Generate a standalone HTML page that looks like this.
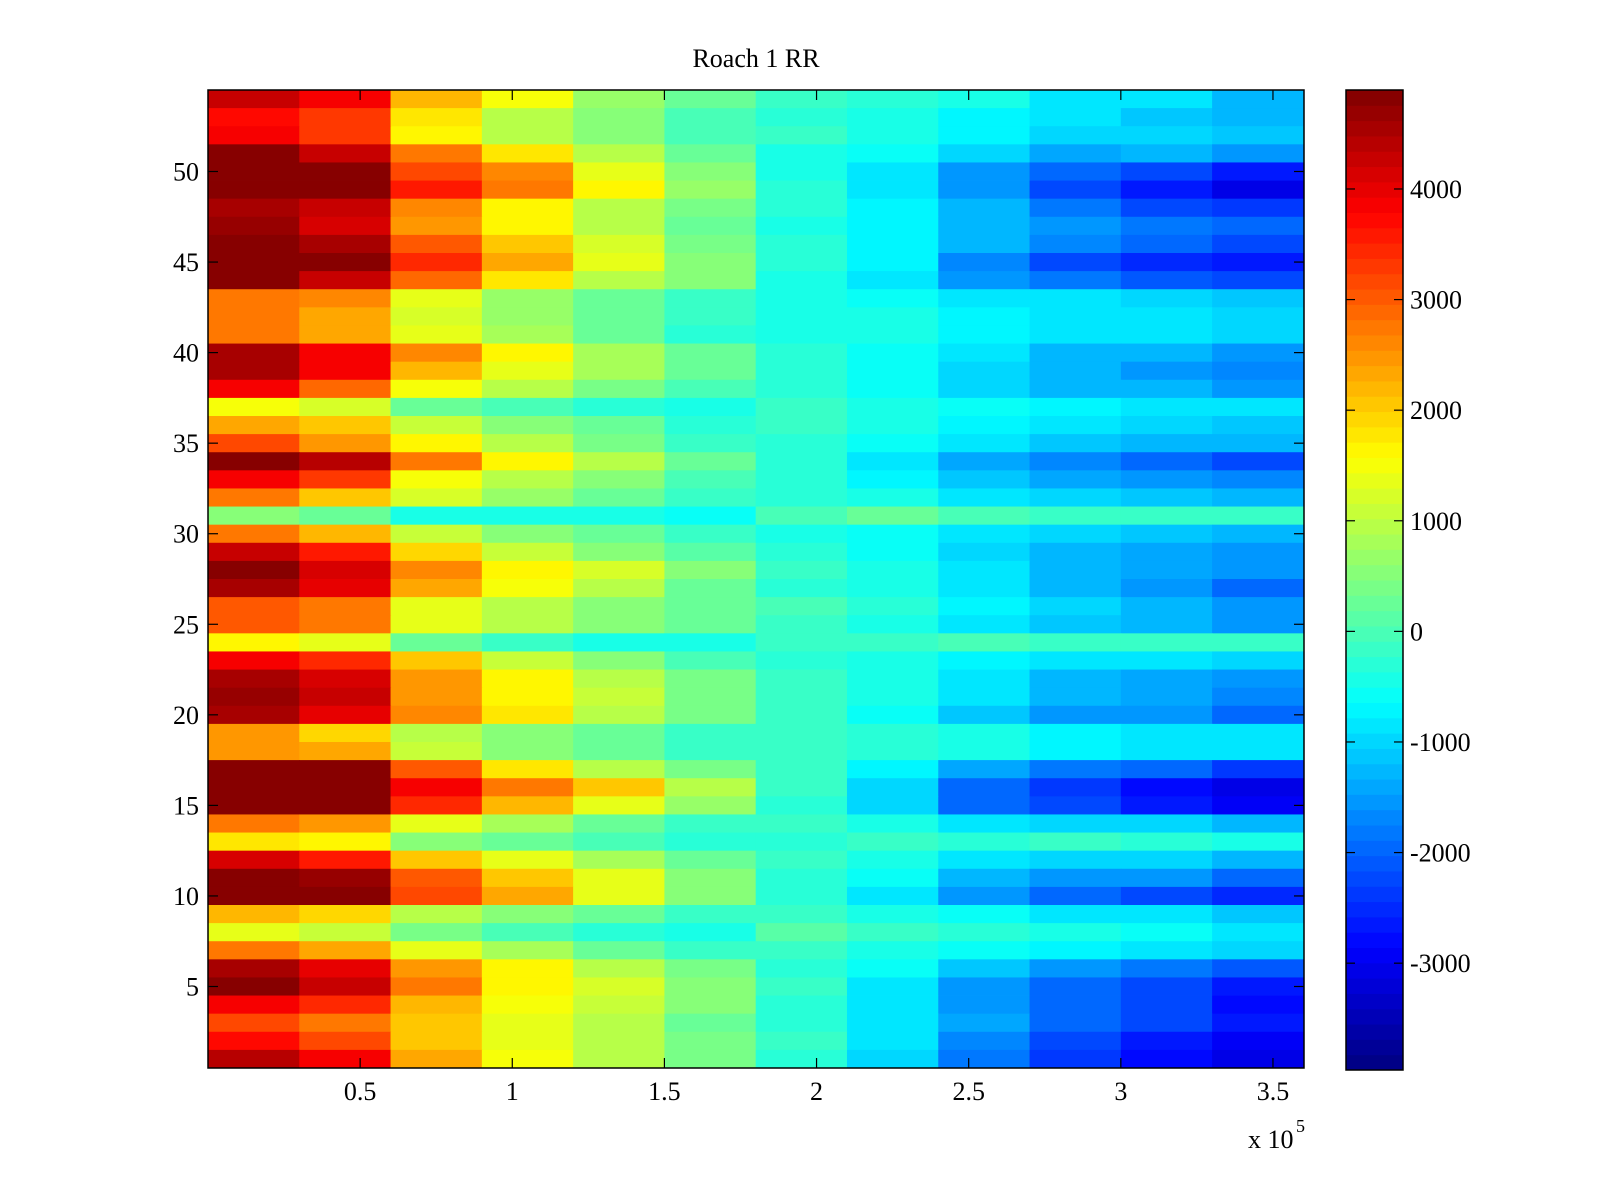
<!DOCTYPE html>
<html><head><meta charset="utf-8"><style>
html,body{margin:0;padding:0;background:#fff;}
svg{display:block;font-family:"Liberation Serif",serif;}
</style></head><body>
<svg id="chart" width="1600" height="1200" viewBox="0 0 1600 1200"></svg>
<script>
// Column bin centers (x, in units of 1e5)
const colCenters = [0.15,0.45,0.75,1.05,1.35,1.65,1.95,2.25,2.55,2.85,3.15,3.45];
const colWidth = 0.3;
// Row values from row 54 (top) down to row 1
const r54=[4300,3800,2200,1500,700,200,-100,-300,-500,-800,-900,-1200];
const r53=[3700,3300,1800,1000,500,0,-300,-500,-700,-900,-1100,-1200];
const r52=[3800,3300,1600,1000,500,0,-200,-400,-700,-1000,-1000,-1100];
const r51=[4900,4300,2800,1800,1000,300,-400,-600,-1000,-1400,-1300,-1500];
const r50=[4900,4900,3200,2600,1300,500,-500,-800,-1600,-2000,-2300,-2700];
const r49=[4900,4900,3600,2800,1600,700,-300,-800,-1600,-2300,-2700,-3100];
const r48=[4600,4300,2600,1700,1000,400,-300,-700,-1300,-1800,-2200,-2400];
const r47=[4700,4200,2500,1600,900,300,-400,-700,-1200,-1500,-1800,-2000];
const r46=[4900,4600,3000,2000,1200,400,-300,-700,-1200,-1700,-2000,-2300];
const r45=[4900,4900,3500,2300,1300,600,-300,-700,-1700,-2200,-2500,-2700];
const r44=[4900,4300,2900,1800,1000,500,-400,-900,-1500,-1800,-2100,-2200];
const r43=[2800,2600,1300,700,300,-200,-400,-600,-800,-900,-1000,-1100];
const r42=[2700,2400,1200,700,200,-200,-400,-500,-700,-800,-900,-1000];
const r41=[2700,2300,1300,800,300,-300,-400,-500,-700,-900,-900,-1000];
const r40=[4600,3900,2600,1700,800,300,-300,-600,-900,-1200,-1300,-1600];
const r39=[4600,3800,2200,1400,800,200,-300,-600,-1000,-1300,-1500,-1700];
const r38=[3800,2900,1500,900,400,0,-300,-600,-1000,-1300,-1300,-1600];
const r37=[1500,1200,300,0,-300,-400,-200,-400,-600,-700,-800,-900];
const r36=[2300,2000,1100,500,200,-300,-200,-500,-700,-900,-1000,-1100];
const r35=[3200,2500,1600,900,400,-100,-300,-600,-900,-1100,-1200,-1300];
const r34=[4800,4400,2700,1600,900,300,-300,-800,-1400,-1700,-1900,-2200];
const r33=[3800,3300,1500,1000,500,0,-300,-700,-1100,-1400,-1600,-1700];
const r32=[2700,2100,1200,700,300,-200,-300,-500,-800,-1000,-1100,-1300];
const r31=[500,300,-400,-500,-500,-600,0,200,0,-100,-200,-200];
const r30=[2800,2200,1100,600,200,-200,-400,-600,-900,-1000,-1100,-1200];
const r29=[4300,3600,1900,1100,600,100,-300,-600,-1000,-1200,-1400,-1600];
const r28=[4800,4200,2600,1700,1200,600,-200,-500,-900,-1300,-1400,-1600];
const r27=[4500,4000,2300,1500,900,300,-300,-500,-900,-1300,-1600,-2000];
const r26=[3000,2800,1300,900,600,200,0,-300,-700,-1000,-1300,-1500];
const r25=[3000,2700,1300,1000,500,200,-100,-400,-800,-1100,-1300,-1600];
const r24=[1600,1300,200,-200,-400,-500,-100,-100,0,-100,-200,-200];
const r23=[3900,3400,2000,1100,600,0,-300,-500,-700,-800,-900,-1000];
const r22=[4600,4200,2500,1600,1000,400,-200,-500,-900,-1200,-1400,-1600];
const r21=[4700,4300,2500,1700,1100,400,-100,-500,-900,-1200,-1400,-1700];
const r20=[4600,4000,2600,1800,900,400,-100,-600,-1100,-1500,-1600,-1900];
const r19=[2500,1900,1000,600,200,-200,-100,-300,-500,-700,-800,-900];
const r18=[2500,2300,1100,600,300,-100,-100,-300,-500,-700,-800,-900];
const r17=[4900,4800,3000,1800,1000,400,-200,-700,-1400,-1800,-2000,-2400];
const r16=[4900,4900,3800,2800,2000,900,-200,-1000,-2000,-2400,-2800,-3100];
const r15=[4900,4900,3500,2200,1400,700,-300,-1000,-1900,-2300,-2600,-2900];
const r14=[2800,2500,1300,800,300,-200,-100,-400,-800,-1000,-1000,-1200];
const r13=[1800,1600,600,300,0,-300,-300,-100,-300,-200,-300,-400];
const r12=[4200,3600,2000,1300,800,200,-200,-500,-800,-1000,-1000,-1200];
const r11=[4900,4700,3000,2000,1300,600,-300,-600,-1200,-1500,-1600,-1900];
const r10=[4900,4800,3200,2300,1400,600,-300,-800,-1600,-1900,-2200,-2500];
const r9=[2200,1900,1000,500,200,-200,-100,-400,-600,-800,-900,-1100];
const r8=[1300,1100,400,0,-300,-400,100,-200,-300,-500,-600,-800];
const r7=[2800,2300,1300,800,300,-100,-200,-500,-600,-700,-800,-1000];
const r6=[4600,4000,2500,1600,1000,400,-300,-600,-1100,-1600,-1800,-2100];
const r5=[4800,4300,2700,1700,1200,600,-200,-800,-1500,-1900,-2200,-2700];
const r4=[3900,3400,2200,1500,1100,500,-300,-800,-1500,-1900,-2300,-2800];
const r3=[3200,2800,2000,1400,1000,300,-300,-900,-1400,-1900,-2300,-2700];
const r2=[3700,3200,2100,1400,900,400,-200,-900,-1700,-2200,-2600,-2900];
const r1=[4400,3800,2400,1500,1000,400,-300,-1000,-1800,-2400,-2800,-3100];
const rowsTopDown=[r54,r53,r52,r51,r50,r49,r48,r47,r46,r45,r44,r43,r42,r41,r40,r39,r38,r37,r36,r35,r34,r33,r32,r31,r30,r29,r28,r27,r26,r25,r24,r23,r22,r21,r20,r19,r18,r17,r16,r15,r14,r13,r12,r11,r10,r9,r8,r7,r6,r5,r4,r3,r2,r1];
const xTicks=[0.5,1,1.5,2,2.5,3,3.5];
const xTickLabels=["0.5","1","1.5","2","2.5","3","3.5"];
const yTicks=[5,10,15,20,25,30,35,40,45,50];
const cTicks=[-3000,-2000,-1000,0,1000,2000,3000,4000];
const cLim=[-3966,4895];

const NS="http://www.w3.org/2000/svg";
const svg=document.getElementById('chart');
const P={l:208,r:1304,t:90,b:1068};
const xMin=0,xMax=3.602,yMin=0.5,yMax=54.5;
const xs=v=>P.l+(v-xMin)/(xMax-xMin)*(P.r-P.l);
const ys=v=>P.b-(v-yMin)/(yMax-yMin)*(P.b-P.t);
const CB={l:1346,r:1403,t:90,b:1070};
const cs=v=>CB.b-(v-cLim[0])/(cLim[1]-cLim[0])*(CB.b-CB.t);
function mk(tag,attrs,parent){const e=document.createElementNS(NS,tag);for(const k in attrs)e.setAttribute(k,attrs[k]);(parent||svg).appendChild(e);return e;}
function jet(v){
  let t=(v-cLim[0])/(cLim[1]-cLim[0]);t=Math.max(0,Math.min(1,t));
  let i=Math.min(63,Math.floor(t*64));t=(i+0.5)/64;
  const c=x=>Math.round(255*Math.max(0,Math.min(1,x)));
  return `rgb(${c(1.5-Math.abs(4*t-3))},${c(1.5-Math.abs(4*t-2))},${c(1.5-Math.abs(4*t-1))})`;
}
// title
const title=mk('text',{x:756,y:67,'text-anchor':'middle','font-size':26});
title.textContent='Roach 1 RR';


// heatmap cells
const g=mk('g',{});


rowsTopDown.forEach((row,ri)=>{
  const rowNum=54-ri;
  row.forEach((v,ci)=>{
    const x0=xs(colCenters[ci]-colWidth/2),x1=Math.min(xs(colCenters[ci]+colWidth/2),P.r);
    const cell=mk('rect',{x:x0,y:ys(rowNum+0.5),width:x1-x0+0.6,height:ys(rowNum-0.5)-ys(rowNum+0.5)+0.4,fill:jet(v)},g);
    
    
  });
});
// axes frame
const frame=mk('rect',{x:P.l,y:P.t,width:P.r-P.l,height:P.b-P.t,fill:'none',stroke:'#000','stroke-width':1.5});


xTicks.forEach((v,i)=>{
  const x=xs(v);
  mk('line',{x1:x,x2:x,y1:P.b,y2:P.b-10,stroke:'#000','stroke-width':1.2});
  mk('line',{x1:x,x2:x,y1:P.t,y2:P.t+10,stroke:'#000','stroke-width':1.2});
  const t=mk('text',{x:x,y:1100,'text-anchor':'middle','font-size':26});
  t.textContent=xTickLabels[i];
  
  
});
yTicks.forEach(v=>{
  const y=ys(v);
  mk('line',{x1:P.l,x2:P.l+10,y1:y,y2:y,stroke:'#000','stroke-width':1.2});
  mk('line',{x1:P.r,x2:P.r-10,y1:y,y2:y,stroke:'#000','stroke-width':1.2});
  const t=mk('text',{x:199,y:y+9,'text-anchor':'end','font-size':26});
  t.textContent=String(v);
  
  
});
const ex=mk('text',{x:1248,y:1148,'font-size':26});
ex.textContent='x 10';


const ex5=mk('text',{x:1296,y:1132,'font-size':18});
ex5.textContent='5';


// colorbar
const cb=mk('g',{});


for(let i=0;i<64;i++){
  const v0=cLim[0]+(cLim[1]-cLim[0])*i/64,v1=cLim[0]+(cLim[1]-cLim[0])*(i+1)/64;
  const s=mk('rect',{x:CB.l,y:cs(v1),width:CB.r-CB.l,height:cs(v0)-cs(v1)+0.5,fill:jet((v0+v1)/2)},cb);
  
  
}
mk('rect',{x:CB.l,y:CB.t,width:CB.r-CB.l,height:CB.b-CB.t,fill:'none',stroke:'#000','stroke-width':1.5},cb);
cTicks.forEach(v=>{
  const y=cs(v);
  mk('line',{x1:CB.l,x2:CB.l+9,y1:y,y2:y,stroke:'#000','stroke-width':1.2},cb);
  mk('line',{x1:CB.r,x2:CB.r-9,y1:y,y2:y,stroke:'#000','stroke-width':1.2},cb);
  const t=mk('text',{x:1410,y:y+9,'font-size':26},cb);
  t.textContent=String(v);
  
  
});
</script>
</body></html>
